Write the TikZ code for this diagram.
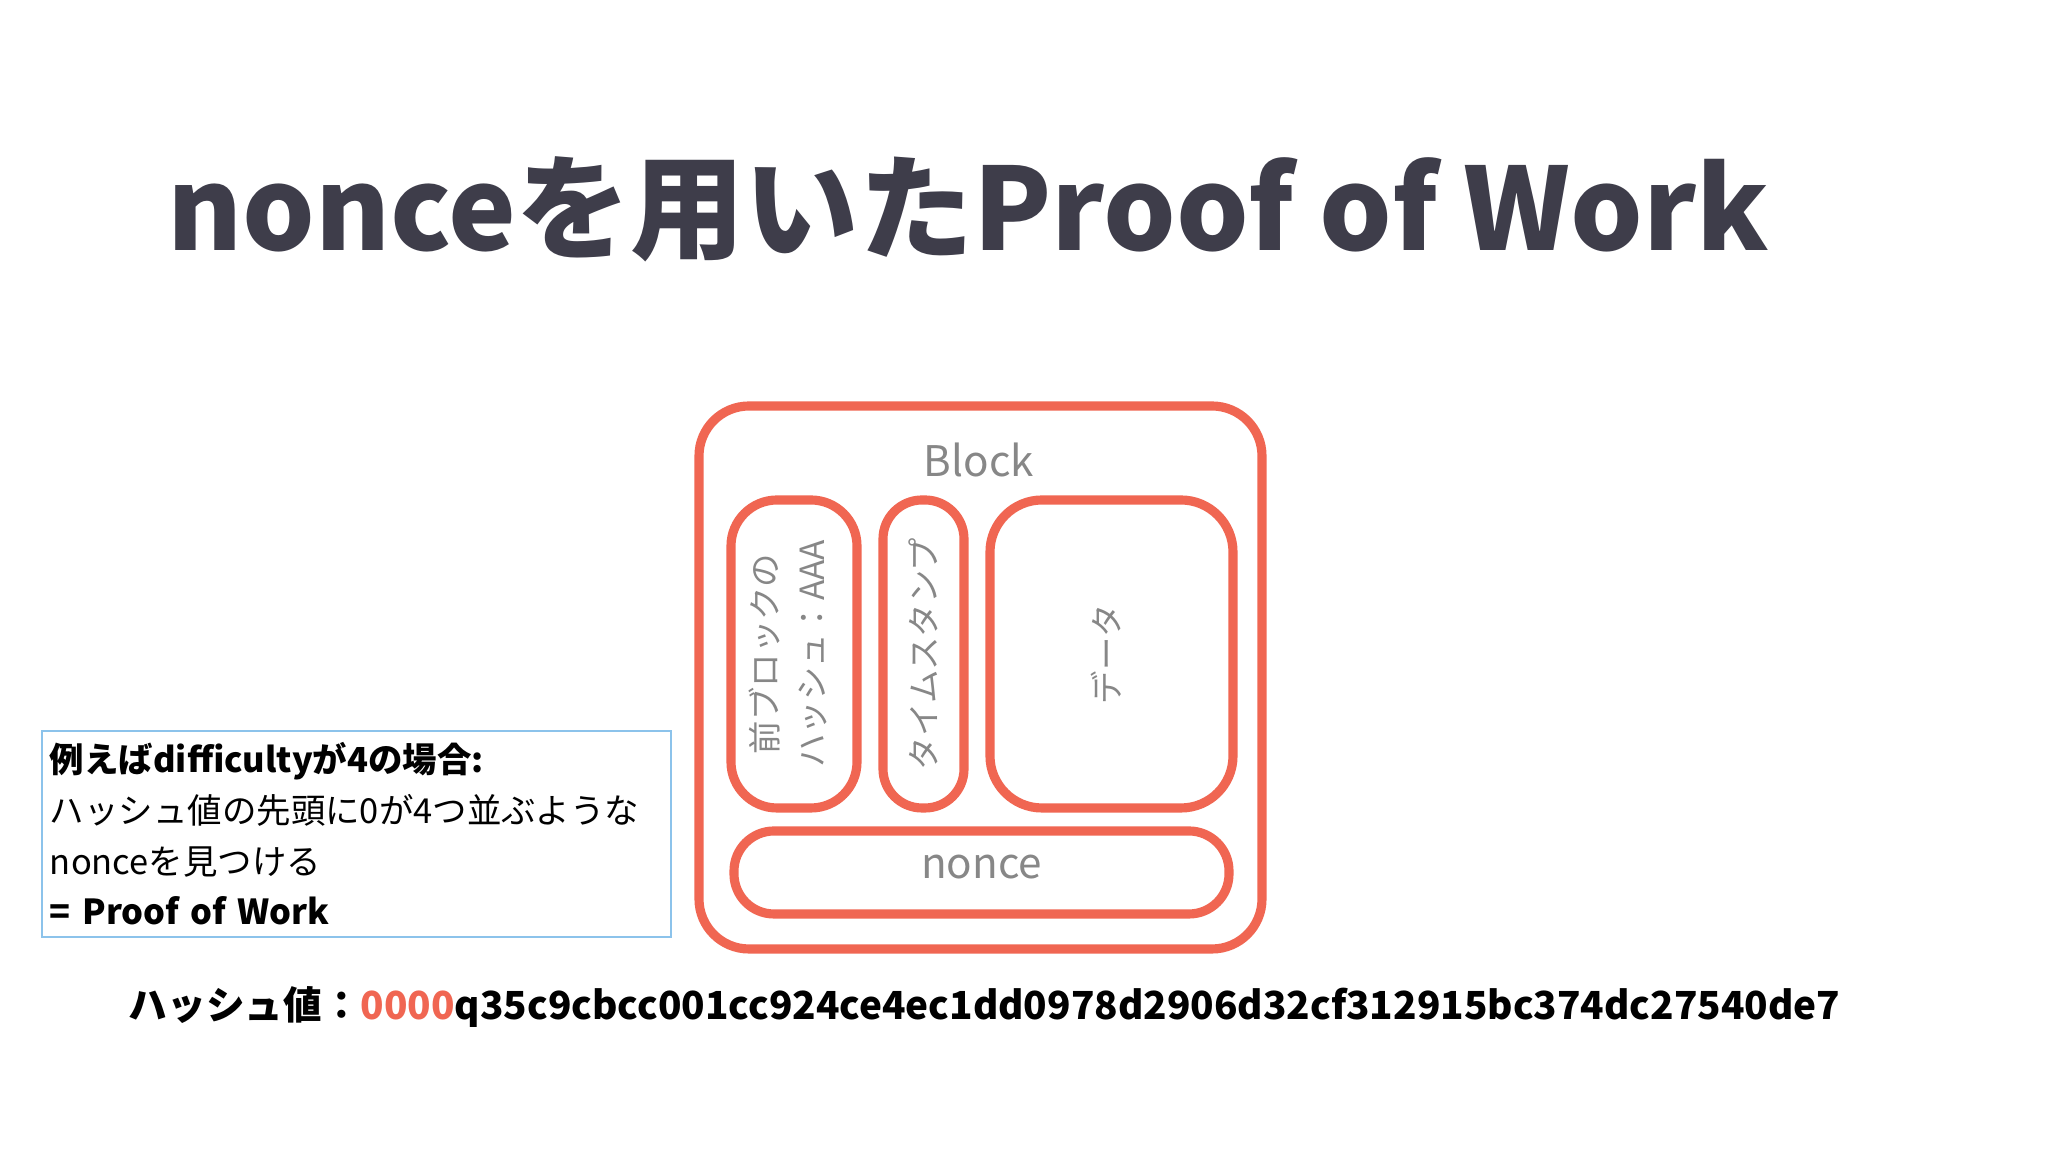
\documentclass[tikz,border=0pt]{standalone}
\usepackage{fontspec}
\setmainfont{Noto Sans CJK JP}
\usepackage{xcolor}
\usetikzlibrary{positioning}
\definecolor{blockred}{RGB}{240,102,82}
\definecolor{labelgray}{RGB}{135,135,135}
\definecolor{titlegray}{RGB}{62,61,74}
\definecolor{noteblue}{RGB}{140,195,235}

\begin{document}
\begin{tikzpicture}[
    node distance=0.26cm,
    frame/.style={draw=blockred, line width=2.6pt, rounded corners=#1, outer sep=0pt},
    field/.style={text=labelgray, font=\fontsize{9.5}{13.4}\selectfont, rotate=90, align=center},
    tag/.style={text=labelgray, font=\fontsize{12}{14}\selectfont}
]
    \path [use as bounding box, fill=white] (0,0) rectangle (20.48,11.52);

    \node [anchor=base west, inner sep=0pt, text=titlegray, font=\fontsize{32.5}{40}\selectfont\bfseries] (title) at (1.67,9.01) {nonceを用いたProof of Work};

    % block and its fields
    \node [frame=0.5cm, minimum width=5.63cm, minimum height=5.43cm] (block) at (9.805,4.745) {};
    \node [tag] (blocklabel) at (9.79,6.92) {Block};
    \node [frame=0.46cm, minimum width=1.26cm, minimum height=3.08cm] (prevhash) at (7.94,4.98) {};
    \node [frame=0.39cm, minimum width=0.81cm, minimum height=3.08cm, right=of prevhash] (stamp) {};
    \node [frame=0.52cm, minimum width=2.43cm, minimum height=3.08cm, right=of stamp] (data) {};
    \node [frame=0.40cm, minimum width=4.95cm, minimum height=0.83cm] (nonce) at (9.815,2.795) {};

    \node [field] (prevlabel) at ([xshift=-0.06cm]prevhash.center) {前ブロックの\\ハッシュ：AAA};
    \node [field] (stamplabel) at (stamp.center) {タイムスタンプ};
    \node [field] (datalabel) at ([xshift=-0.05cm]data.center) {データ};
    \node [tag] (noncelabel) at ([yshift=0.05cm]nonce.center) {nonce};

    % note on the left
    \node [draw=noteblue, line width=0.6pt, minimum width=6.29cm, minimum height=1.96cm, text width=6.13cm, inner xsep=0.08cm, align=left, font=\fontsize{9.8}{14.4}\selectfont] (note) at (3.565,3.18) {\textbf{例えばdifficultyが4の場合:}\\ハッシュ値の先頭に0が4つ並ぶような\\nonceを見つける\\\textbf{= Proof of Work}};

    \node [anchor=base west, inner sep=0pt, font=\fontsize{11}{14}\selectfont\bfseries] (hash) at (1.28,1.32) {ハッシュ値：\textcolor{blockred}{0000}q35c9cbcc001cc924ce4ec1dd0978d2906d32cf312915bc374dc27540de7};
\end{tikzpicture}
\end{document}
